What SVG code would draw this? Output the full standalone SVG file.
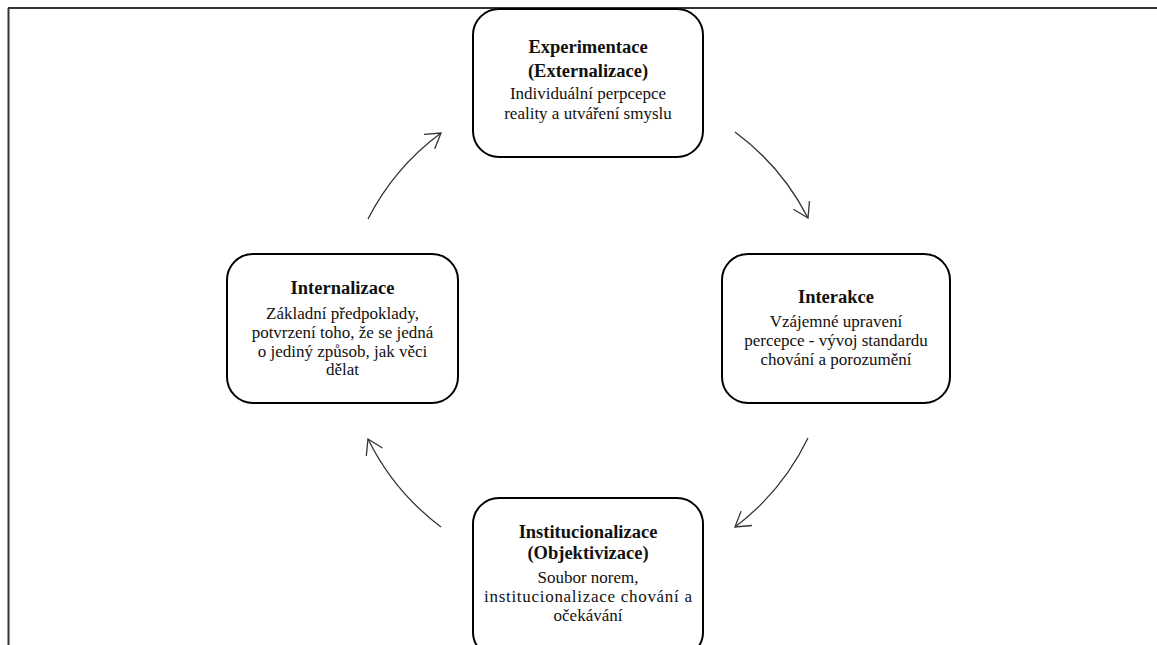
<svg xmlns="http://www.w3.org/2000/svg" width="1157" height="645" viewBox="0 0 1157 645">
  <style>
    .box { fill: #ffffff; stroke: #000000; stroke-width: 2; }
    .frame { stroke: #333333; stroke-width: 2; fill: none; }
    .title { font-family: "Liberation Serif", "Times New Roman", serif; font-size: 18.5px; font-weight: bold; fill: #111111; text-anchor: middle; }
    .body { font-family: "Liberation Serif", "Times New Roman", serif; font-size: 17px; fill: #111111; text-anchor: middle; }
    .flow { fill: none; stroke: #333333; stroke-width: 1.3; marker-end: url(#open-arrow); }
  </style>
  <defs>
    <marker id="open-arrow" markerUnits="userSpaceOnUse" markerWidth="40" markerHeight="40" viewBox="-20 -20 40 40" refX="0" refY="0" orient="auto">
      <path d="M-14.4,-9 L0,0 L-14.4,9" fill="none" stroke="#333333" stroke-width="1.3"/>
    </marker>
  </defs>

  <rect width="1157" height="645" fill="#ffffff"/>

  <!-- page frame -->
  <line class="frame" x1="8" y1="8" x2="1157" y2="8"/>
  <line class="frame" x1="8.5" y1="8" x2="8.5" y2="645" stroke="#111111"/>

  <!-- cycle arrows: arcs on a common circle, clockwise -->
  <g id="connectors">
    <path class="flow" d="M368,219 A246,246 0 0 1 441,133"/>
    <path class="flow" d="M735,132 A246,246 0 0 1 808,218"/>
    <path class="flow" d="M808,438 A246,246 0 0 1 735,527"/>
    <path class="flow" d="M441,527 A246,246 0 0 1 368,439"/>
  </g>

  <g id="experimentace">
    <rect class="box" x="473" y="9" width="230" height="148" rx="26" ry="26"/>
    <text class="title" x="588" y="53">Experimentace</text>
    <text class="title" x="588" y="77">(Externalizace)</text>
    <text class="body" x="588" y="99">Individuální perpcepce</text>
    <text class="body" x="588" y="119">reality a utváření smyslu</text>
  </g>

  <g id="interakce">
    <rect class="box" x="722" y="254" width="228" height="149" rx="26" ry="26"/>
    <text class="title" x="836" y="303">Interakce</text>
    <text class="body" x="836" y="327">Vzájemné upravení</text>
    <text class="body" x="836" y="346">percepce - vývoj standardu</text>
    <text class="body" x="836" y="365">chování a porozumění</text>
  </g>

  <g id="internalizace">
    <rect class="box" x="227" y="254" width="231" height="149" rx="26" ry="26"/>
    <text class="title" x="342.5" y="294">Internalizace</text>
    <text class="body" x="342.5" y="319">Základní předpoklady,</text>
    <text class="body" x="342.5" y="338">potvrzení toho, že se jedná</text>
    <text class="body" x="342.5" y="357">o jediný způsob, jak věci</text>
    <text class="body" x="342.5" y="375">dělat</text>
  </g>

  <g id="institucionalizace">
    <rect class="box" x="473" y="498" width="230" height="160" rx="26" ry="26"/>
    <text class="title" x="588" y="538">Institucionalizace</text>
    <text class="title" x="588" y="559">(Objektivizace)</text>
    <text class="body" x="588" y="583">Soubor norem,</text>
    <text class="body" x="588" y="602" textLength="208" lengthAdjust="spacing">institucionalizace chování a</text>
    <text class="body" x="588" y="621">očekávání</text>
  </g>
</svg>
